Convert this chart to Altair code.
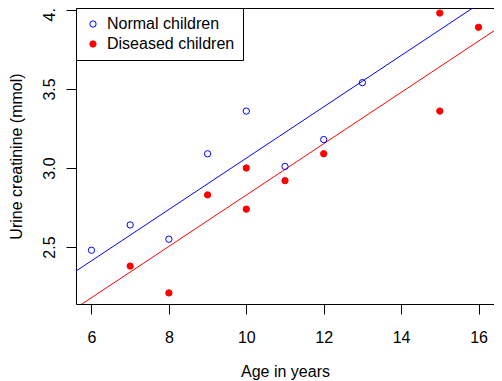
import altair as alt
import numpy as np
import pandas as pd

# ---- data ----
normal_age = [6, 7, 8, 9, 10, 11, 12, 13]
normal_creat = [2.48, 2.64, 2.55, 3.09, 3.36, 3.01, 3.18, 3.54]
diseased_age = [7, 8, 9, 10, 10, 11, 12, 15, 15, 16]
diseased_creat = [2.38, 2.21, 2.83, 3.00, 2.74, 2.92, 3.09, 3.98, 3.36, 3.89]
groups = ["Normal children", "Diseased children"]
colors = ["#0000FF", "#FF0000"]
fills = ["transparent", "#FF0000"]
x_ticks = [6, 8, 10, 12, 14, 16]
y_ticks = [2.5, 3.0, 3.5, 4.0]
x_domain = [5.6, 16.4]
y_domain = [2.14, 4.012]

FONT = "Liberation Sans"

points = pd.concat([
    pd.DataFrame({"age": normal_age, "creat": normal_creat, "group": groups[0]}),
    pd.DataFrame({"age": diseased_age, "creat": diseased_creat, "group": groups[1]}),
], ignore_index=True)

# common-slope (ANCOVA) fit: parallel lines
stats = {}
sxx_tot = 0.0
sxy_tot = 0.0
for g, xs, ys in [(groups[0], normal_age, normal_creat), (groups[1], diseased_age, diseased_creat)]:
    x = np.array(xs, float)
    y = np.array(ys, float)
    mx, my = x.mean(), y.mean()
    sxx_tot += ((x - mx) ** 2).sum()
    sxy_tot += ((x - mx) * (y - my)).sum()
    stats[g] = (mx, my)
slope = sxy_tot / sxx_tot
rows = []
for g in groups:
    mx, my = stats[g]
    for xv in x_domain:
        rows.append({"age": xv, "creat": my + slope * (xv - mx), "group": g})
lines = pd.DataFrame(rows)

x_enc = alt.X("age:Q", scale=alt.Scale(domain=x_domain, nice=False, zero=False),
              axis=alt.Axis(values=x_ticks, title="Age in years", format="d",
                            labelPadding=28, labelBaseline="alphabetic",
                            titleY=72, titleBaseline="alphabetic"))
y_enc = alt.Y("creat:Q", scale=alt.Scale(domain=y_domain, nice=False, zero=False),
              axis=alt.Axis(values=y_ticks, title="Urine creatinine (mmol)", format=".1f",
                            labelAngle=270, labelAlign="center", labelBaseline="alphabetic",
                            labelPadding=12, titleAngle=270, titleAlign="center",
                            titleBaseline="alphabetic", titleX=-55, titleY=148))

legend = alt.Legend(title=None, orient="none", legendX=0, legendY=0,
                    strokeColor="black", fillColor="white", padding=8,
                    symbolOffset=1, labelOffset=6, rowPadding=4,
                    labelFontSize=16, labelFont=FONT, labelColor="black",
                    symbolSize=40, symbolStrokeWidth=1)

line_layers = [
    alt.Chart(lines).transform_filter(alt.datum.group == g)
    .mark_line(strokeWidth=1, clip=True, color=c)
    .encode(x=x_enc, y=y_enc)
    for g, c in zip(groups, colors)
]

point_layer = alt.Chart(points).mark_point(shape="circle", size=40, strokeWidth=1, opacity=1, clip=True).encode(
    x=x_enc, y=y_enc,
    color=alt.Color("group:N", scale=alt.Scale(domain=groups, range=colors), legend=legend),
    fill=alt.Fill("group:N", scale=alt.Scale(domain=groups, range=fills), legend=legend),
)

chart = alt.layer(*line_layers, point_layer).properties(
    width=418, height=296,
    autosize=alt.AutoSizeParams(type="none"),
    padding={"left": 68, "top": 0, "right": 0, "bottom": 77},
).configure(
    background="white"
).configure_view(
    stroke="black", strokeWidth=1
).configure_axis(
    grid=False, domain=False, tickColor="black", tickSize=10, tickWidth=1,
    labelFont=FONT, labelFontSize=16, labelColor="black",
    titleFont=FONT, titleFontSize=16, titleColor="black", titleFontWeight="normal",
)

chart.save("out.html", embed_options={"renderer": "svg", "actions": False})
